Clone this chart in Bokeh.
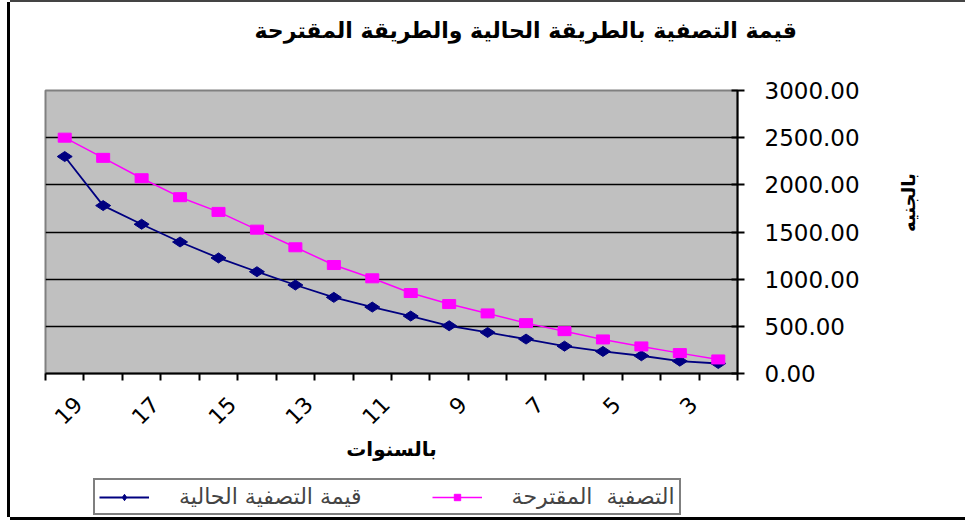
import math
from bokeh.plotting import figure
from bokeh.layouts import column
from bokeh.models import (Range1d, FixedTicker, SingleIntervalTicker, NumeralTickFormatter,
                          Legend, LegendItem, ColumnDataSource, CustomJSTickFormatter)
from bokeh.embed import file_html
from bokeh.resources import INLINE

# ---- data ----
years = [19, 18, 17, 16, 15, 14, 13, 12, 11, 10, 9, 8, 7, 6, 5, 4, 3, 2]
current_value = [2300, 1780, 1582, 1394, 1225, 1079, 938, 807, 704, 609, 506, 435, 365, 290, 234, 188, 131, 106]
proposed_value = [2500, 2286, 2070, 1869, 1713, 1525, 1338, 1150, 1009, 853, 736, 637, 534, 449, 361, 287, 216, 149]
label_years = [19, 17, 15, 13, 11, 9, 7, 5, 3]

title_text = "قيمة التصفية بالطريقة الحالية والطريقة المقترحة"
x_title = "بالسنوات"
y_title = "بالجنيه"
name_current = "قيمة التصفية الحالية"
name_proposed = "التصفية  المقترحة"

AR_FONT = "DejaVu Sans"
LABEL_SHIFT = 0.35  # visual shift of rotated tick labels (Excel centres them)
BLUE = "#000080"
MAGENTA = "#FF00FF"

src = ColumnDataSource(dict(x=years, cur=current_value, pro=proposed_value))

# ---- title strip ----
pt = figure(width=955, height=56, output_backend="svg", toolbar_location=None,
            x_range=Range1d(0, 1), y_range=Range1d(0, 1),
            min_border=0, x_axis_location=None, y_axis_location=None)
pt.grid.visible = False
pt.outline_line_color = None
pt.background_fill_color = "white"
pt.border_fill_color = "white"
pt.title.text = title_text
pt.title.align = "left"
pt.title.offset = 209
pt.title.standoff = 26
pt.title.text_font = AR_FONT
pt.title.text_font_size = "22px"
pt.title.text_font_style = "bold"
pt.title.text_color = "black"

# ---- main chart ----
p = figure(width=955, height=420, output_backend="svg", toolbar_location=None,
           x_range=Range1d(start=years[0] + 0.5, end=years[-1] - 0.5),
           y_range=Range1d(0, 3000), y_axis_location="right",
           min_border_left=35, min_border_right=228, min_border_top=32, min_border_bottom=105)
p.title.visible = False

p.background_fill_color = "#C0C0C0"
p.border_fill_color = "white"
p.outline_line_color = "#808080"
p.outline_line_width = 2

# y axis (right)
yax = p.yaxis[0]
yax.ticker = SingleIntervalTicker(interval=500)
yax.formatter = NumeralTickFormatter(format="0.00")
yax.major_tick_in = 6
yax.major_tick_out = 7
yax.minor_tick_line_color = None
yax.axis_line_color = "black"
yax.axis_line_width = 2
yax.major_tick_line_width = 2
yax.major_label_text_font = "DejaVu Sans"
yax.major_label_text_font_size = "23px"
yax.major_label_text_color = "black"
yax.major_label_standoff = 20
yax.axis_label = y_title
yax.axis_label_orientation = math.pi / 2
yax.axis_label_text_font = AR_FONT
yax.axis_label_text_font_size = "18px"
yax.axis_label_text_font_style = "bold"
yax.axis_label_text_color = "black"
yax.axis_label_standoff = 46

# x axis (categories, reversed)
xax = p.xaxis[0]
boundaries = [y + 0.5 for y in years] + [years[-1] - 0.5]
xax.ticker = FixedTicker(ticks=[y - LABEL_SHIFT for y in label_years], minor_ticks=boundaries)
xax.formatter = CustomJSTickFormatter(code="return String(Math.round(tick + %s));" % LABEL_SHIFT)
xax.major_tick_line_color = None
xax.minor_tick_in = 0
xax.minor_tick_out = 7
xax.minor_tick_line_color = "black"
xax.minor_tick_line_width = 2
xax.axis_line_color = "black"
xax.axis_line_width = 2
xax.major_label_orientation = math.pi / 4
xax.major_label_text_font = "DejaVu Sans"
xax.major_label_text_font_size = "22px"
xax.major_label_text_color = "black"
xax.major_label_standoff = 20
xax.axis_label = x_title
xax.axis_label_text_font = AR_FONT
xax.axis_label_text_font_size = "20px"
xax.axis_label_text_font_style = "bold"
xax.axis_label_text_color = "black"
xax.axis_label_standoff = 2

p.xgrid.grid_line_color = None
p.ygrid.grid_line_color = "black"
p.ygrid.grid_line_width = 1.5
p.ygrid.ticker = SingleIntervalTicker(interval=500)

# series
p.line("x", "cur", source=src, line_color=BLUE, line_width=1.8)
p.scatter("x", "cur", source=src, marker="diamond", angle=math.pi / 2, size=15,
          fill_color=BLUE, line_color=BLUE)
p.line("x", "pro", source=src, line_color=MAGENTA, line_width=1.5)
p.rect("x", "pro", source=src, width=13, height=9, width_units="screen", height_units="screen",
       fill_color=MAGENTA, line_color=MAGENTA)

# ---- legend strip: a small figure whose ranges keep its copies of the series out of view ----
pl = figure(width=955, height=39, output_backend="svg", toolbar_location=None,
            x_range=Range1d(-2, -1), y_range=Range1d(-2, -1),
            min_border=0, x_axis_location=None, y_axis_location=None)
pl.grid.visible = False
pl.outline_line_color = None
pl.background_fill_color = "white"
pl.border_fill_color = "white"
ll1 = pl.line("x", "cur", source=src, line_color=BLUE, line_width=1.8)
lm1 = pl.scatter("x", "cur", source=src, marker="diamond", angle=math.pi / 2, size=13,
                 fill_color=BLUE, line_color=BLUE)
ll2 = pl.line("x", "pro", source=src, line_color=MAGENTA, line_width=1.5)
lm2 = pl.scatter("x", "pro", source=src, marker="square", size=9, fill_color=MAGENTA, line_color=MAGENTA)
legend = Legend(items=[LegendItem(label=name_current, renderers=[ll1, lm1]),
                       LegendItem(label=name_proposed, renderers=[ll2, lm2])],
                orientation="horizontal", location=(48, 2),
                border_line_color="black", border_line_width=2,
                background_fill_color="white", background_fill_alpha=1,
                label_text_font=AR_FONT, label_text_font_size="22px",
                glyph_width=50, glyph_height=16, spacing=70, padding=4, margin=0,
                label_standoff=30)
pl.add_layout(legend, "center")

layout = column(pt, p, pl, spacing=0,
                styles={"position": "relative", "left": "10px", "top": "2px",
                        "box-shadow": "-3px 0 0 0 black, 0 3px 0 0 black, 0 -2px 0 0 #444444"})

open("out.html", "w").write(file_html(layout, INLINE))
